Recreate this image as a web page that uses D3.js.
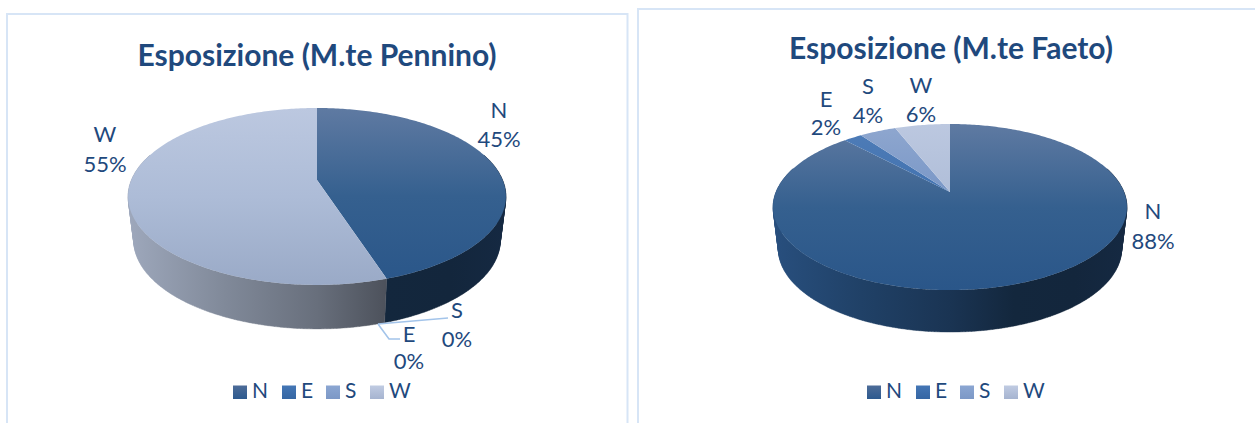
<!DOCTYPE html>
<html>
<head>
<meta charset="utf-8">
<script src="https://cdn.jsdelivr.net/npm/d3@7/dist/d3.min.js"></script>
<style>
html,body{margin:0;padding:0;background:#fff;overflow:hidden}
text{font-family:Lato,"Open Sans",sans-serif;fill:#1f497d}
</style>
</head>
<body>
<svg id="chart" width="1255" height="423"></svg>
<script>
// Exposure shares for the two mountains
const categories = ["N", "E", "S", "W"];
const penninoValues = [45, 0, 0, 55];
const faetoValues = [88, 2, 4, 6];

// Top-face gradient per category: upper, middle and lower colour
const topColors = [
  ["#5f7aa2", "#35608f", "#2a5689"],
  ["#4f7db8", "#3f70ae", "#376aa6"],
  ["#8fa7cf", "#7594c5", "#6283b8"],
  ["#bcc8e0", "#adbcd7", "#9aaac7"]
];
const sideColors = ["#2d5a8f", "#3a6aa6", "#6f8fbf", "#b3bfd6"];
const legendColors = [
  ["#4d6c98", "#2d5a8f"],
  ["#4476b5", "#3566a3"],
  ["#8ba6d2", "#7c98c6"],
  ["#c0cbe2", "#a6b4d0"]
];

const svg = d3.select("#chart");
const defs = svg.append("defs");

// Panel frames
const frames = [
  { x: 7, y: 14, w: 620.5, h: 430 },
  { x: 638, y: 9, w: 640, h: 430 }
];
svg.selectAll("rect.frame").data(frames).join("rect")
  .attr("class", "frame")
  .attr("x", d => d.x).attr("y", d => d.y)
  .attr("width", d => d.w).attr("height", d => d.h)
  .attr("fill", "#fff").attr("stroke", "#d7e5f6").attr("stroke-width", 2);

const charts = [
  {
    id: "pennino",
    title: "Esposizione (M.te Pennino)",
    titleX: 317, titleY: 58,
    values: penninoValues,
    cx: 317, apexY: 180, halfW: 185.6, scaleY: 85.4, persp: 0.186, depth: 44,
    legendX: [233, 282, 326, 370],
    labels: [
      { c: 0, x: 499, y: 112, dy: 29 },
      { c: 1, x: 409, y: 336, dy: 27 },
      { c: 2, x: 457, y: 312, dy: 29 },
      { c: 3, x: 105, y: 136, dy: 30 }
    ],
    leaders: [
      [[378, 324], [389, 339], [400, 339]],
      [[378, 324], [448, 318]]
    ]
  },
  {
    id: "faeto",
    title: "Esposizione (M.te Faeto)",
    titleX: 951, titleY: 51,
    values: faetoValues,
    cx: 950, apexY: 192, halfW: 174, scaleY: 80.3, persp: 0.181, depth: 42,
    legendX: [867, 916, 960, 1004],
    labels: [
      { c: 0, x: 1153, y: 213, dy: 30 },
      { c: 1, x: 826, y: 101, dy: 28 },
      { c: 2, x: 868, y: 88, dy: 29 },
      { c: 3, x: 921, y: 87, dy: 29 }
    ],
    leaders: []
  }
];

const pie = d3.pie().sort(null).value(d => d);
const shade = (color, k) => {
  const c = d3.rgb(color);
  return d3.rgb(c.r * k, c.g * k, c.b * k).formatHex();
};

charts.forEach(ch => {
  const g = svg.append("g");

  // Circle on the pie plane projected with a perspective foreshortening
  const project = (angle, radius) => {
    const s = Math.sin(angle) * radius;
    const t = -Math.cos(angle) * radius;
    const w = 1 - ch.persp * t;
    return [ch.cx + ch.halfW * s / w, ch.apexY + ch.scaleY * t / w];
  };
  const lower = ([x, y]) => [ch.cx + (x - ch.cx) * 0.97, y + ch.depth];
  const line = d3.line();
  const arcPoints = (a0, a1) => {
    const n = Math.max(2, Math.ceil((a1 - a0) / 0.015));
    return d3.range(n + 1).map(i => project(a0 + (a1 - a0) * i / n, 1));
  };

  const top = ch.apexY - ch.scaleY / (1 + ch.persp);
  const bottom = ch.apexY + ch.scaleY / (1 - ch.persp);
  const left = ch.cx - ch.halfW * 1.02;
  const right = ch.cx + ch.halfW * 1.02;

  categories.forEach((c, i) => {
    const tg = defs.append("linearGradient")
      .attr("id", `top-${ch.id}-${i}`).attr("gradientUnits", "userSpaceOnUse")
      .attr("x1", 0).attr("x2", 0).attr("y1", top).attr("y2", bottom);
    [0, 0.5, 1].forEach((o, j) =>
      tg.append("stop").attr("offset", o).attr("stop-color", topColors[i][j]));

    const sg = defs.append("linearGradient")
      .attr("id", `side-${ch.id}-${i}`).attr("gradientUnits", "userSpaceOnUse")
      .attr("x1", left).attr("x2", right).attr("y1", 0).attr("y2", 0);
    [[0, 0.88], [0.25, 0.72], [0.5, 0.58], [0.68, 0.43], [0.85, 0.42], [1, 0.46]].forEach(([o, k]) =>
      sg.append("stop").attr("offset", o).attr("stop-color", shade(sideColors[i], k)));

    const lg = defs.append("linearGradient")
      .attr("id", `legend-${ch.id}-${i}`)
      .attr("x1", 0).attr("x2", 0).attr("y1", 0).attr("y2", 1);
    legendColors[i].forEach((col, j) =>
      lg.append("stop").attr("offset", j).attr("stop-color", col));
  });

  const slices = pie(ch.values);

  // Rim: only the part of each slice facing the viewer, built from small
  // convex quads so the tangent edges at the widest points stay filled
  const front0 = Math.PI * 0.4, front1 = Math.PI * 1.6;
  slices.forEach(s => {
    const a0 = Math.max(s.startAngle, front0), a1 = Math.min(s.endAngle, front1);
    if (a1 <= a0) return;
    const upper = arcPoints(a0, a1);
    const quads = d3.pairs(upper).map(([p, q]) =>
      line(d3.polygonHull([p, q, lower(q), lower(p)])) + "Z");
    g.append("path")
      .attr("d", quads.join(""))
      .attr("fill", `url(#side-${ch.id}-${s.index})`)
      .attr("stroke", `url(#side-${ch.id}-${s.index})`)
      .attr("stroke-width", 0.4);
  });

  // Top faces
  slices.filter(s => s.value > 0).forEach(s => {
    const pts = [[ch.cx, ch.apexY]].concat(arcPoints(s.startAngle, s.endAngle));
    g.append("path")
      .attr("d", line(pts) + "Z")
      .attr("fill", `url(#top-${ch.id}-${s.index})`);
  });

  // Title
  g.append("text")
    .attr("x", ch.titleX).attr("y", ch.titleY)
    .attr("text-anchor", "middle").attr("dominant-baseline", "middle")
    .attr("font-size", 30).attr("font-weight", 700)
    .text(ch.title);

  // Leader lines for the labels of empty slices
  ch.leaders.forEach(pts => {
    g.append("path").attr("d", line(pts))
      .attr("fill", "none").attr("stroke", "#a3c4ea").attr("stroke-width", 1.6);
  });

  // Data labels: category above percentage
  const fmt = d => `${d}%`;
  ch.labels.forEach(l => {
    const lab = g.append("g").attr("font-size", 22).attr("text-anchor", "middle");
    lab.append("text").attr("x", l.x).attr("y", l.y)
      .attr("dominant-baseline", "middle").text(categories[l.c]);
    lab.append("text").attr("x", l.x).attr("y", l.y + l.dy)
      .attr("dominant-baseline", "middle").text(fmt(ch.values[l.c]));
  });

  // Legend
  categories.forEach((c, i) => {
    g.append("rect")
      .attr("x", ch.legendX[i]).attr("y", 385.5)
      .attr("width", 14).attr("height", 13.5)
      .attr("fill", `url(#legend-${ch.id}-${i})`);
    g.append("text")
      .attr("x", ch.legendX[i] + 19).attr("y", 392.5)
      .attr("dominant-baseline", "middle")
      .attr("font-size", 21).text(c);
  });
});
</script>
</body>
</html>
